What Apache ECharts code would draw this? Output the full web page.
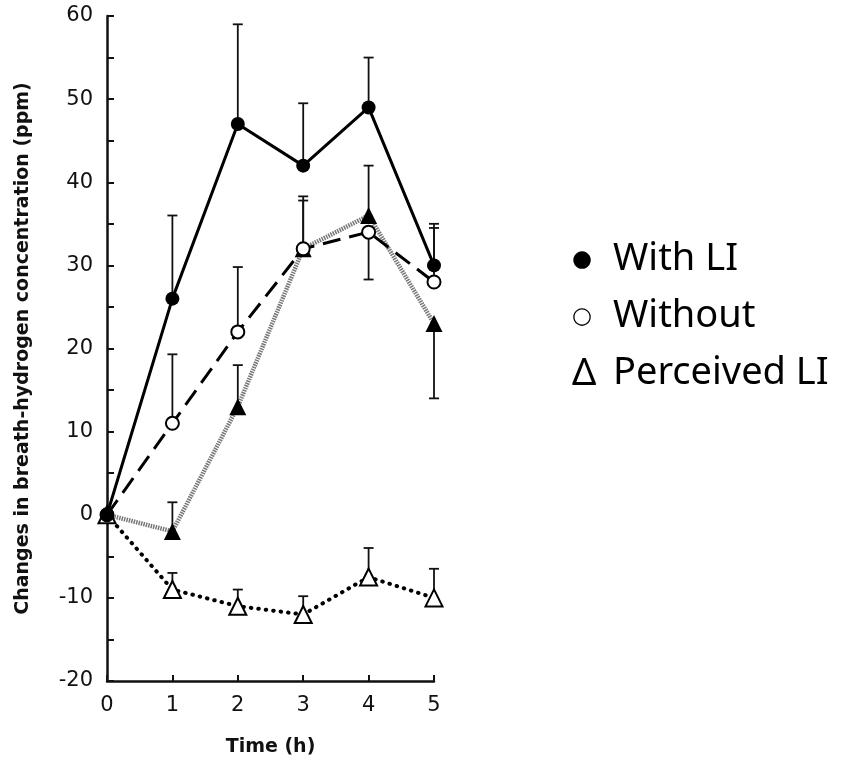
<!DOCTYPE html>
<html>
<head>
<meta charset="utf-8">
<style>
  html, body { margin: 0; padding: 0; background: #fff; }
  #chart { width: 843px; height: 762px; }
</style>
<script src="https://cdn.jsdelivr.net/npm/echarts@6/dist/echarts.min.js"></script>
</head>
<body>
<div id="chart"></div>
<script>
// 数据
var hours = [0, 1, 2, 3, 4, 5];
var yTicks = [-20, 60, 10];   // min, max, interval

var withLI = [0, 26, 47, 42, 49, 30];
var withLIErr = [null, 36, 59, 49.5, 55, 34.5];

var withoutLI = [0, 11, 22, 32, 34, 28];
var withoutErr = [null, 19.3, 29.8, 38.3, 28.3, 35];

var filledTri = [0, -2, 13, 32, 36, 23];
var filledTriErr = [null, 1.5, 18, 37.8, 42, 14];

var perceivedLI = [0, -9, -11, -12, -7.5, -10];
var perceivedErr = [null, -7, -9, -9.8, -4, -6.5];

var legendLabels = [['\u25CF', 'With LI'], ['\u25CB', 'Without'], ['\u0394', 'Perceived LI']];

function pairs(vals) {
    return hours.map(function (h, i) { return [h, vals[i]]; });
}
function errPairs(vals, ends) {
    var out = [];
    hours.forEach(function (h, i) {
        if (ends[i] !== null) out.push([h, vals[i], ends[i]]);
    });
    return out;
}

// 误差线
function errorSeries(vals, ends) {
    return {
        type: 'custom',
        z: 1,
        silent: true,
        data: errPairs(vals, ends),
        renderItem: function (params, api) {
            var p0 = api.coord([api.value(0), api.value(1)]);
            var p1 = api.coord([api.value(0), api.value(2)]);
            var half = 5;
            var st = {stroke: '#111', lineWidth: 1.8};
            return {
                type: 'group',
                children: [
                    {type: 'line', shape: {x1: p0[0], y1: p0[1], x2: p1[0], y2: p1[1]}, style: st},
                    {type: 'line', shape: {x1: p1[0] - half, y1: p1[1], x2: p1[0] + half, y2: p1[1]}, style: st}
                ]
            };
        }
    };
}

var chart = echarts.init(document.getElementById('chart'));

// 图例文字
var graphics = [];
legendLabels.forEach(function (item, i) {
    var y = 259 + i * 57;
    var isDelta = i === 2;
    graphics.push({
        type: 'text', x: 572, y: y + 1,
        style: {
            text: item[0],
            font: isDelta ? '38px "Noto Sans"' : '23px "DejaVu Sans"',
            fill: '#000', verticalAlign: 'middle', align: 'left'
        }
    });
    graphics.push({
        type: 'text', x: 613, y: y,
        style: {text: item[1], font: '38px "Noto Sans"', fill: '#000', verticalAlign: 'middle', align: 'left'}
    });
});

var option = {
    backgroundColor: '#fff',
    animation: false,
    grid: {left: 107, top: 16, width: 327, height: 667},
    graphic: graphics,
    xAxis: {
        type: 'value',
        min: 0, max: 5, interval: 1,
        name: 'Time (h)',
        nameLocation: 'middle',
        nameGap: 57,
        nameTextStyle: {fontFamily: 'DejaVu Sans', fontWeight: 'bold', fontSize: 19, color: '#111'},
        axisLine: {onZero: false, lineStyle: {color: '#111', width: 2.5}},
        axisTick: {inside: true, length: 6, lineStyle: {color: '#111', width: 2}},
        axisLabel: {fontFamily: 'DejaVu Sans', fontSize: 21, color: '#111', margin: 14},
        splitLine: {show: false}
    },
    yAxis: {
        type: 'value',
        min: yTicks[0], max: yTicks[1], interval: yTicks[2],
        name: 'Changes in breath-hydrogen concentration (ppm)',
        nameLocation: 'middle',
        nameGap: 74,
        nameRotate: 90,
        nameTextStyle: {fontFamily: 'DejaVu Sans', fontWeight: 'bold', fontSize: 19, color: '#111'},
        axisLine: {onZero: false, lineStyle: {color: '#111', width: 2.5}},
        axisTick: {inside: true, length: 7, lineStyle: {color: '#111', width: 2}},
        minorTick: {show: true, splitNumber: 2, length: 7, lineStyle: {color: '#111', width: 2}},
        axisLabel: {fontFamily: 'DejaVu Sans', fontSize: 21, color: '#111', margin: 14},
        splitLine: {show: false}
    },
    series: [
        errorSeries(withLI, withLIErr),
        errorSeries(withoutLI, withoutErr),
        errorSeries(filledTri, filledTriErr),
        errorSeries(perceivedLI, perceivedErr),
        {
            name: 'Filled triangle',
            type: 'line',
            z: 2,
            data: pairs(filledTri),
            symbol: 'triangle', symbolSize: 17,
            itemStyle: {color: '#000'},
            lineStyle: {color: '#777', width: 4.5, type: [1.5, 1]}
        },
        {
            name: 'Perceived LI',
            type: 'line',
            z: 3,
            data: pairs(perceivedLI),
            symbol: 'triangle', symbolSize: 17,
            itemStyle: {color: '#fff', borderColor: '#000', borderWidth: 2},
            lineStyle: {color: '#000', width: 4, type: [0.5, 7], cap: 'round'}
        },
        {
            name: 'Without',
            type: 'line',
            z: 4,
            data: pairs(withoutLI),
            symbol: 'circle', symbolSize: 13,
            itemStyle: {color: '#fff', borderColor: '#000', borderWidth: 2},
            lineStyle: {color: '#000', width: 3, type: [18, 9]}
        },
        {
            name: 'With LI',
            type: 'line',
            z: 5,
            data: pairs(withLI),
            symbol: 'circle', symbolSize: 14,
            itemStyle: {color: '#000'},
            lineStyle: {color: '#000', width: 3}
        }
    ]
};
chart.setOption(option);
</script>
</body>
</html>
